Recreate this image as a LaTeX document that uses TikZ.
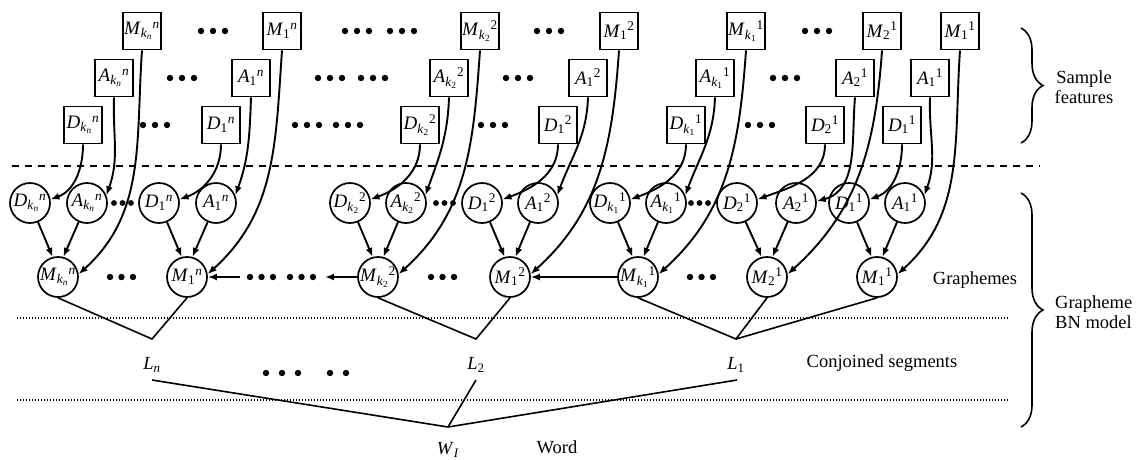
\documentclass[tikz,border=0pt]{standalone}
\usepackage{fontspec}
\setmainfont{Liberation Serif}
\usetikzlibrary{arrows.meta,decorations.pathreplacing}
\newcommand\lbl[3]{\makebox[0pt]{\textit{#1}\textsubscript{#2}\textsuperscript{#3}}}
\newcommand\kk[1]{\textit{k}\textsubscript{#1}}
\newcommand\nn{\textit{n}}
\newcommand\lf{\fontsize{19}{22}\selectfont}
\newcommand\tf{\fontsize{18.5}{20}\selectfont}
\newcommand\tdots[4]{\foreach \i in {0,1,2}{\fill (#1+\i*#3,#2) circle[radius=#4];}}
\begin{document}
\begin{tikzpicture}[x=1pt,y=1pt,
  fbox/.style={draw, line width=1.8pt, minimum width=38pt, minimum height=37pt, inner sep=0pt, font=\lf},
  vcirc/.style={draw, circle, line width=1.7pt, minimum size=40pt, inner sep=0pt, font=\lf},
  feat/.style={-{Latex[length=9pt,width=7pt]}, line width=1.9pt},
  link/.style={line width=1.6pt},
  txt/.style={font=\tf, inner sep=0pt},
  brc/.style={line width=1.6pt, decorate, decoration={brace, amplitude=22pt}}]
\useasboundingbox (0,0) rectangle (1139,-459);

% sample feature boxes
\node[fbox] (bDkn) at (83,-125) {\lbl{D}{\kk{\nn}}{\nn}};
\node[fbox] (bAkn) at (114,-78) {\lbl{A}{\kk{\nn}}{\nn}};
\node[fbox] (bMkn) at (142,-31) {\lbl{M}{\kk{\nn}}{\nn}};
\node[fbox] (bD1n) at (221,-125) {\lbl{D}{1}{\nn}};
\node[fbox] (bA1n) at (251,-78) {\lbl{A}{1}{\nn}};
\node[fbox] (bM1n) at (282,-31) {\lbl{M}{1}{\nn}};
\node[fbox] (bDk2) at (420,-125) {\lbl{D}{\kk{2}}{2}};
\node[fbox] (bAk2) at (449,-78) {\lbl{A}{\kk{2}}{2}};
\node[fbox] (bMk2) at (480,-31) {\lbl{M}{\kk{2}}{2}};
\node[fbox] (bD12) at (558,-125) {\lbl{D}{1}{2}};
\node[fbox] (bA12) at (588,-78) {\lbl{A}{1}{2}};
\node[fbox] (bM12) at (619,-31) {\lbl{M}{1}{2}};
\node[fbox] (bDk1) at (686,-125) {\lbl{D}{\kk{1}}{1}};
\node[fbox] (bAk1) at (715,-78) {\lbl{A}{\kk{1}}{1}};
\node[fbox] (bMk1) at (746,-31) {\lbl{M}{\kk{1}}{1}};
\node[fbox] (bD21) at (825,-125) {\lbl{D}{2}{1}};
\node[fbox] (bA21) at (855,-78) {\lbl{A}{2}{1}};
\node[fbox] (bM21) at (882,-31) {\lbl{M}{2}{1}};
\node[fbox] (bD11) at (902,-125) {\lbl{D}{1}{1}};
\node[fbox] (bA11) at (930,-78) {\lbl{A}{1}{1}};
\node[fbox] (bM11) at (960,-31) {\lbl{M}{1}{1}};

% grapheme circles
\node[vcirc] (cDkn) at (30,-203) {\lbl{D}{\kk{\nn}}{\nn}};
\node[vcirc] (cAkn) at (87,-203) {\lbl{A}{\kk{\nn}}{\nn}};
\node[vcirc] (cD1n) at (159,-203) {\lbl{D}{1}{\nn}};
\node[vcirc] (cA1n) at (216,-203) {\lbl{A}{1}{\nn}};
\node[vcirc] (cDk2) at (350,-203) {\lbl{D}{\kk{2}}{2}};
\node[vcirc] (cAk2) at (406,-203) {\lbl{A}{\kk{2}}{2}};
\node[vcirc] (cD12) at (482,-203) {\lbl{D}{1}{2}};
\node[vcirc] (cA12) at (538,-203) {\lbl{A}{1}{2}};
\node[vcirc] (cDk1) at (610,-203) {\lbl{D}{\kk{1}}{1}};
\node[vcirc] (cAk1) at (666,-203) {\lbl{A}{\kk{1}}{1}};
\node[vcirc] (cD21) at (737,-203) {\lbl{D}{2}{1}};
\node[vcirc] (cA21) at (796,-203) {\lbl{A}{2}{1}};
\node[vcirc] (cD11) at (849,-203) {\lbl{D}{1}{1}};
\node[vcirc] (cA11) at (905,-203) {\lbl{A}{1}{1}};

\node[vcirc] (cMkn) at (58,-277) {\lbl{M}{\kk{\nn}}{\nn}};
\node[vcirc] (cM1n) at (187,-277) {\lbl{M}{1}{\nn}};
\node[vcirc] (cMk2) at (378,-277) {\lbl{M}{\kk{2}}{2}};
\node[vcirc] (cM12) at (510,-277) {\lbl{M}{1}{2}};
\node[vcirc] (cMk1) at (638,-277) {\lbl{M}{\kk{1}}{1}};
\node[vcirc] (cM21) at (767,-277) {\lbl{M}{2}{1}};
\node[vcirc] (cM11) at (877,-277) {\lbl{M}{1}{1}};

% separators
\draw[line width=1.5pt, dash pattern=on 7pt off 6pt] (12,-166) -- (1040,-166);
\draw[line width=1.3pt, dash pattern=on 1.3pt off 1.7pt] (17,-318) -- (1008,-318);
\draw[line width=1.3pt, dash pattern=on 1.3pt off 1.7pt] (17,-400) -- (1008,-400);

% box -> circle
\foreach \g in {kn,1n,k2,12,k1,21,11}{
  \draw[feat] (bD\g.south) to[out=-90,in=20] (cD\g.10);
  \draw[feat] (bM\g.south) to[out=-94,in=42] (cM\g.8);
  \draw[feat] (cD\g) -- (cM\g.105);
  \draw[feat] (cA\g) -- (cM\g.75);
}
\foreach \g in {kn,1n,k2,12,k1,11}{
  \draw[feat] (bA\g.south) to[out=-92,in=70] (cA\g.22);
}
\draw[feat] (bA21.south) to[out=-95,in=15] (cA21.5);

% M row links
\coordinate (gR) at (325,-277);
\coordinate (gL) at (240,-277);
\draw[feat] (cMk2.west) -- (gR);
\draw[feat] (gL) -- (cM1n.east);
\draw[feat] (cMk1.west) -- (cM12.east);

% dots
\tdots{201}{-31}{12}{3.2pt} \tdots{345}{-31}{12}{3.2pt} \tdots{390}{-31}{12}{3.2pt}
\tdots{537}{-31}{12}{3.2pt} \tdots{805}{-31}{12}{3.2pt}
\tdots{170}{-78}{12}{3.2pt} \tdots{318}{-78}{12}{3.2pt} \tdots{361}{-78}{12}{3.2pt}
\tdots{506}{-78}{12}{3.2pt} \tdots{773}{-78}{12}{3.2pt}
\tdots{143}{-125}{12}{3.2pt} \tdots{295}{-125}{12}{3.2pt} \tdots{336}{-125}{12}{3.2pt}
\tdots{481}{-125}{12}{3.2pt} \tdots{748}{-125}{12}{3.2pt}
\tdots{114}{-203}{8.5}{2.9pt} \tdots{436}{-203}{8.5}{2.9pt} \tdots{691}{-203}{8.5}{2.9pt}
\tdots{110}{-277}{11.5}{3.2pt} \tdots{250}{-277}{11.5}{3.2pt} \tdots{290}{-277}{11.5}{3.2pt}
\tdots{431}{-277}{11.5}{3.2pt} \tdots{690}{-277}{11.5}{3.2pt}
\tdots{266}{-373}{16}{3.2pt}
\fill (330,-373) circle[radius=3.2pt];
\fill (346,-373) circle[radius=3.2pt];

% conjoined segments
\coordinate (vLn) at (152,-339);
\coordinate (vL2) at (476,-339);
\coordinate (vL1) at (736,-339);
\node[txt] (Ln) at (152,-365) {\textit{L}\textsubscript{\textit{n}}};
\node[txt] (L2) at (476,-365) {\textit{L}\textsubscript{2}};
\node[txt] (L1) at (736,-365) {\textit{L}\textsubscript{1}};
\draw[link] (cMkn.south) -- (vLn) -- (cM1n.south);
\draw[link] (cMk2.south) -- (vL2) -- (cM12.south);
\draw[link] (cMk1.south) -- (vL1) -- (cM21.south);
\draw[link] (vL1) -- (cM11.south);

% word
\coordinate (vW) at (448,-427);
\coordinate (sLn) at (152,-380);
\coordinate (sL2) at (476,-380);
\coordinate (sL1) at (737,-380);
\draw[link] (sLn) -- (vW) -- (sL1);
\draw[link] (sL2) -- (vW);
\node[txt] (WI) at (448,-450) {\textit{W}\textsubscript{\textit{I}}};

% side labels
\node[txt, align=center] (sf) at (1084,-87) {Sample\\features};
\node[txt] (gr) at (975,-280) {Graphemes};
\node[txt, align=left, anchor=west] (gbn) at (1055,-312) {Grapheme\\BN model};
\node[txt] (cs) at (882,-363) {Conjoined segments};
\node[txt] (wd) at (557,-447) {Word};

\draw[brc] (1021,-28) -- (1021,-143);
\draw[brc] (1021,-193) -- (1021,-427);
\end{tikzpicture}
\end{document}
